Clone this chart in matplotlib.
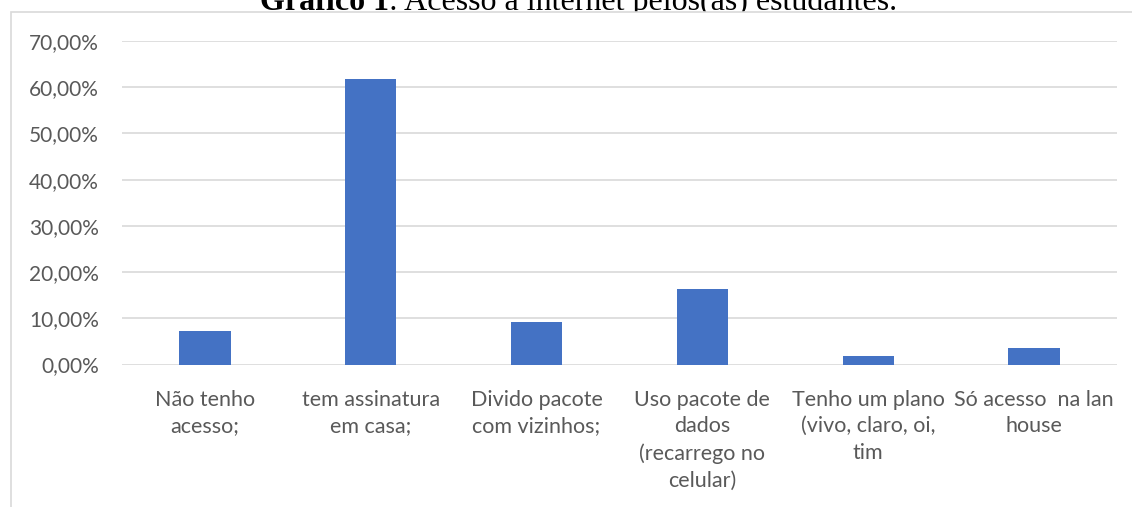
import matplotlib.pyplot as plt
from matplotlib.patches import Rectangle
from matplotlib.ticker import FuncFormatter

# dados
categorias = [
    "Não tenho\nacesso;",
    "tem assinatura\nem casa;",
    "Divido pacote\ncom vizinhos;",
    "Uso pacote de\ndados\n(recarrego no\ncelular)",
    "Tenho um plano\n(vivo, claro, oi,\ntim",
    "Só acesso  na lan\nhouse",
]
percentuais = [7.3, 61.8, 9.1, 16.35, 1.8, 3.6]

W, H = 1132, 507
fig = plt.figure(figsize=(W / 100, H / 100), dpi=100)

# caixa do gráfico (cobre a parte de baixo do título)
caixa = Rectangle((11 / W, 0 - 0.01), 1.05, 1 - 12 / H + 0.01, transform=fig.transFigure,
                  facecolor="white", edgecolor="#d9d9d9", lw=1.2, zorder=0.5)
fig.patches.append(caixa)

# título cortado no topo
t1 = fig.text(260 / W, 1 - 10 / H, "Gráfico 1", fontfamily="Liberation Serif",
              fontweight="bold", fontsize=23, va="baseline", ha="left", zorder=0.2)
t2 = plt.annotate(": Acesso à internet pelos(as) estudantes.", xy=(1, 0), xycoords=t1,
                  va="bottom", ha="left", fontfamily="Liberation Serif", fontsize=23,
                  annotation_clip=False, zorder=0.2)

ax = fig.add_axes([122 / W, (H - 364.5) / H, (1117 - 122) / W, (364.5 - 41) / H], zorder=1)
ax.set_facecolor("none")

x = range(len(categorias))
ax.bar(x, percentuais, width=0.31, color="#4472c4", zorder=2)

ax.set_ylim(0, 70)
ax.set_xlim(-0.5, len(categorias) - 0.5)
ax.set_yticks(range(0, 71, 10))
ax.yaxis.set_major_formatter(FuncFormatter(lambda v, p: f"{v:.2f}%".replace(".", ",")))
ax.grid(axis="y", color="#d9d9d9", lw=1.2, zorder=0)
ax.set_axisbelow(True)
for s in ["top", "right", "left", "bottom"]:
    ax.spines[s].set_visible(False)
ax.tick_params(length=0, colors="#595959")
ax.tick_params(axis="y", pad=16.5, labelsize=15)
ax.tick_params(axis="x", pad=18, labelsize=15.5)
ax.set_xticks(list(x))
ax.set_xticklabels(categorias, fontfamily="Lato", linespacing=1.42)
for lbl in ax.get_yticklabels():
    lbl.set_fontfamily("Lato")

fig.savefig("out.png", dpi=100)
